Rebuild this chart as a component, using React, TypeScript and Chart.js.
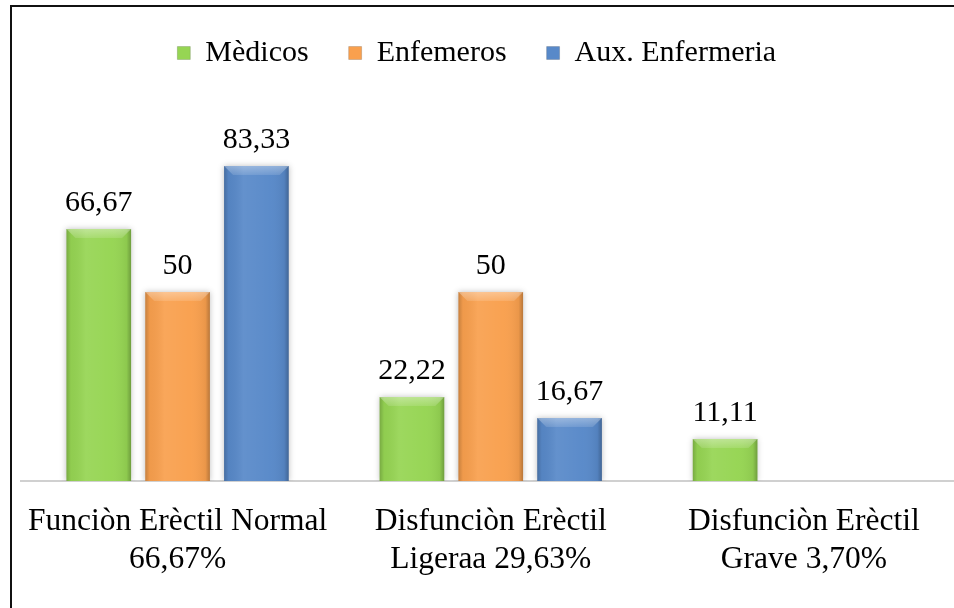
import React, { useEffect, useRef } from "react";
import { Chart, registerables } from "chart.js";

Chart.register(...registerables);

const categories: string[][] = [
  ["Funciòn Erèctil Normal", "66,67%"],
  ["Disfunciòn Erèctil", "Ligeraa 29,63%"],
  ["Disfunciòn Erèctil", "Grave 3,70%"],
];
const seriesNames = ["Mèdicos", "Enfemeros", "Aux. Enfermeria"];
const medicos: (number | null)[] = [66.67, 22.22, 11.11];
const enfermeros: (number | null)[] = [50, 50, null];
const auxEnfermeria: (number | null)[] = [83.33, 16.67, null];
const seriesColors = ["#96D553", "#F9A04E", "#5889C9"];

const FONT = "'Liberation Serif', 'Times New Roman', serif";

const fmt = (v: number) => String(v).replace(".", ",");

const barStylePlugin = {
  id: "barStyle",
  beforeDatasetsDraw(chart: any) {
    const ctx = chart.ctx;
    ctx.save();
    ctx.shadowColor = "rgba(0,0,0,0.25)";
    ctx.shadowBlur = 6;
    ctx.shadowOffsetX = 0;
    ctx.shadowOffsetY = 0;
  },
  afterDatasetsDraw(chart: any) {
    const ctx = chart.ctx;
    ctx.restore();
    ctx.save();
    chart.data.datasets.forEach((ds: any, di: number) => {
      const meta = chart.getDatasetMeta(di);
      meta.data.forEach((el: any, i: number) => {
        const v = ds.data[i];
        if (v === null || v === undefined) return;
        const { x, y, base, width } = el.getProps(["x", "y", "base", "width"], true);
        const left = x - width / 2;
        const right = x + width / 2;
        const top = Math.min(y, base);
        const bottom = Math.max(y, base);
        const g = ctx.createLinearGradient(left, 0, right, 0);
        g.addColorStop(0, "rgba(0,0,0,0.2)");
        g.addColorStop(0.07, "rgba(0,0,0,0.04)");
        g.addColorStop(0.3, "rgba(255,255,255,0.07)");
        g.addColorStop(0.7, "rgba(255,255,255,0.02)");
        g.addColorStop(0.93, "rgba(0,0,0,0.06)");
        g.addColorStop(1, "rgba(0,0,0,0.26)");
        ctx.fillStyle = g;
        ctx.fillRect(left, top, width, bottom - top);
        const b = 9;
        ctx.beginPath();
        ctx.moveTo(left, top);
        ctx.lineTo(right, top);
        ctx.lineTo(right - b, top + b);
        ctx.lineTo(left + b, top + b);
        ctx.closePath();
        const bg = ctx.createLinearGradient(0, top, 0, top + b);
        bg.addColorStop(0, "rgba(255,255,255,0.35)");
        bg.addColorStop(1, "rgba(255,255,255,0.12)");
        ctx.fillStyle = bg;
        ctx.fill();
        ctx.fillStyle = "#000";
        ctx.font = `30px ${FONT}`;
        ctx.textAlign = "center";
        ctx.textBaseline = "alphabetic";
        ctx.fillText(fmt(v), x, top - 18);
      });
    });
    ctx.restore();
  },
};

const legendShiftPlugin = {
  id: "legendShift",
  afterLayout(chart: any) {
    const lg = chart.legend;
    if (!lg) return;
    const dx = -14;
    const dy = -25;
    lg.left += dx;
    lg.right += dx;
    lg.top += dy;
    lg.bottom += dy;
  },
};

export default function App() {
  const ref = useRef<HTMLCanvasElement | null>(null);
  useEffect(() => {
    if (!ref.current) return;
    const chart = new Chart(ref.current, {
      type: "bar",
      data: {
        labels: categories,
        datasets: [
          { label: seriesNames[0], data: medicos, backgroundColor: seriesColors[0] },
          { label: seriesNames[1], data: enfermeros, backgroundColor: seriesColors[1] },
          { label: seriesNames[2], data: auxEnfermeria, backgroundColor: seriesColors[2] },
        ],
      },
      options: {
        animation: false,
        responsive: false,
        maintainAspectRatio: false,
        devicePixelRatio: 1,
        layout: { padding: { left: 21, right: 19.5, top: 23, bottom: 0 } },
        datasets: {
          bar: { categoryPercentage: 0.755, barPercentage: 0.82 },
        },
        plugins: {
          tooltip: { enabled: false },
          legend: {
            position: "top",
            labels: {
              color: "#000",
              font: { family: FONT, size: 30 },
              boxWidth: 13,
              boxHeight: 13,
              padding: 40,
              generateLabels: (c: any) =>
                c.data.datasets.map((ds: any, i: number) => ({
                  text: ds.label,
                  fillStyle: seriesColors[i],
                  strokeStyle: "rgba(0,0,0,0.15)",
                  lineWidth: 1,
                  hidden: false,
                  datasetIndex: i,
                  fontColor: "#000",
                })),
            },
          },
        },
        scales: {
          x: {
            grid: { display: false },
            border: { display: true, color: "#d0d0d0", width: 2 },
            ticks: {
              color: "#000",
              font: { family: FONT, size: 31.5, lineHeight: 1.2 },
              padding: 14,
              maxRotation: 0,
              autoSkip: false,
            },
            afterFit: (s: any) => {
              s.height = 127;
            },
          },
          y: {
            display: false,
            min: 0,
            max: 100,
          },
        },
      },
      plugins: [barStylePlugin, legendShiftPlugin],
    });
    return () => chart.destroy();
  }, []);

  return (
    <div>
      <div
        style={{
          position: "fixed",
          left: 10,
          top: 5,
          width: 2000,
          height: 2000,
          borderLeft: "2px solid #111",
          borderTop: "2px solid #111",
        }}
      />
      <canvas
        ref={ref}
        width={980}
        height={608}
        style={{ position: "fixed", left: 0, top: 0, width: 980, height: 608 }}
      />
    </div>
  );
}
